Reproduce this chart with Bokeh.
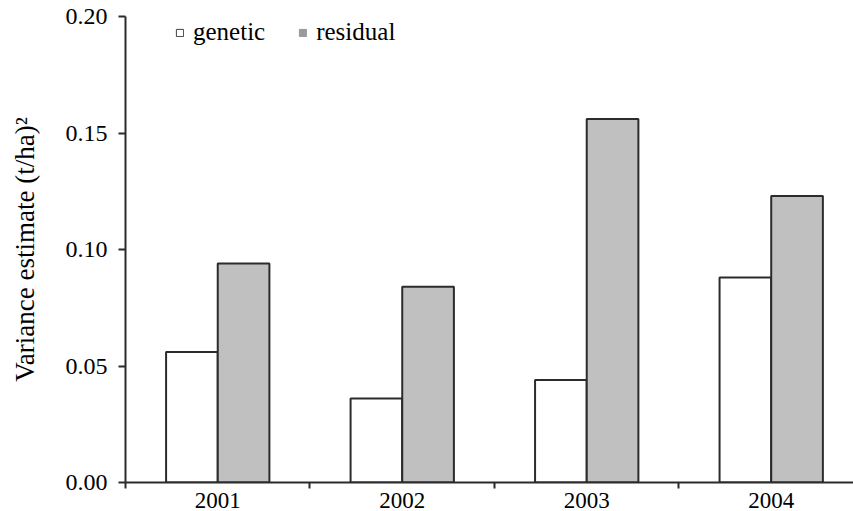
from bokeh.plotting import figure
from bokeh.models import (Range1d, FixedTicker, NumeralTickFormatter, Legend,
                          LegendItem, ColumnDataSource)
from bokeh.transform import dodge
from bokeh.embed import file_html
from bokeh.resources import INLINE

years = ["2001", "2002", "2003", "2004"]
genetic = [0.056, 0.036, 0.044, 0.088]
residual = [0.094, 0.084, 0.156, 0.123]
y_ticks = [0.00, 0.05, 0.10, 0.15, 0.20]

centers = [i + 0.5 for i in range(len(years))]
bounds = [float(i) for i in range(len(years))]
src = ColumnDataSource(dict(year=years, center=centers, genetic=genetic, residual=residual))

FONT = "Liberation Serif, Times New Roman, serif"
DARK = "#2b2b2b"

p = figure(width=853, height=511, output_backend="svg", toolbar_location=None,
           x_range=Range1d(0, 3.946), y_range=Range1d(0, 0.2),
           min_border_left=125, min_border_right=0, min_border_top=16,
           min_border_bottom=29)

p.vbar(x=dodge("center", -0.14), top="genetic", width=0.28, source=src,
       fill_color="white", line_color=DARK, line_width=2)
p.vbar(x=dodge("center", 0.14), top="residual", width=0.28, source=src,
       fill_color="#c0c0c0", line_color=DARK, line_width=2)

# legend-only renderers (their single point is NaN, so nothing is drawn in the plot)
nan = float("nan")
g_leg = p.vbar(x=[nan], top=[nan], width=0.1, fill_color="white",
               line_color="#444444", line_width=1)
r_leg = p.vbar(x=[nan], top=[nan], width=0.1, fill_color="#9a9a9a",
               line_color="#9a9a9a", line_width=1)

legend = Legend(items=[LegendItem(label="genetic", renderers=[g_leg], index=0),
                       LegendItem(label="residual", renderers=[r_leg], index=0)],
                location=(50, 435), orientation="horizontal",
                glyph_width=9, glyph_height=9, label_standoff=9, spacing=33,
                label_height=30,
                padding=0, margin=0, border_line_color=None,
                background_fill_alpha=0,
                label_text_font=FONT, label_text_font_size="25px",
                label_text_color="black")
p.add_layout(legend, "center")

p.xgrid.grid_line_color = None
p.ygrid.grid_line_color = None
p.outline_line_color = None

# x axis
xa = p.xaxis[0]
xa.ticker = FixedTicker(ticks=centers, minor_ticks=bounds)
xa.major_label_overrides = {c: y for c, y in zip(centers, years)}
xa.major_tick_out = 0
xa.major_tick_in = 0
xa.minor_tick_out = 6
xa.minor_tick_in = 0
xa.minor_tick_line_color = DARK
xa.minor_tick_line_width = 2
xa.axis_line_color = DARK
xa.axis_line_width = 2
xa.major_label_standoff = 4
xa.major_label_text_font = FONT
xa.major_label_text_font_size = "23px"
xa.major_label_text_color = "black"

# y axis
ya = p.yaxis[0]
ya.ticker = FixedTicker(ticks=y_ticks)
ya.formatter = NumeralTickFormatter(format="0.00")
ya.major_tick_out = 7
ya.major_tick_in = 0
ya.minor_tick_out = 0
ya.minor_tick_in = 0
ya.major_tick_line_color = DARK
ya.major_tick_line_width = 2
ya.axis_line_color = DARK
ya.axis_line_width = 2
ya.major_label_standoff = 11
ya.major_label_text_font = FONT
ya.major_label_text_font_size = "24px"
ya.major_label_text_color = "black"
ya.axis_label = "Variance estimate (t/ha)\u00b2"
ya.axis_label_text_font = FONT
ya.axis_label_text_font_size = "27px"
ya.axis_label_text_font_style = "normal"
ya.axis_label_text_color = "black"
ya.axis_label_standoff = 23

open("out.html", "w").write(file_html(p, INLINE))
